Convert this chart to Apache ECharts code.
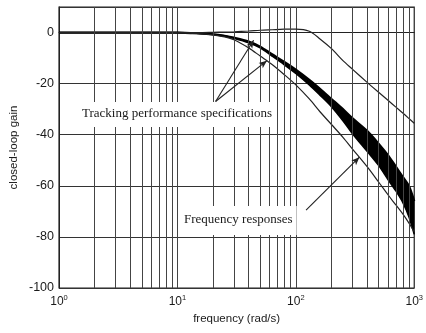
<!DOCTYPE html>
<html>
<head>
<meta charset="utf-8">
<script src="https://cdn.jsdelivr.net/npm/echarts@6/dist/echarts.min.js"></script>
<style>
  html, body { margin: 0; padding: 0; background: #fff; }
  #chart { width: 426px; height: 333px; }
</style>
</head>
<body>
<div id="chart"></div>
<script>
// frequency (rad/s) and closed-loop gain (dB)
const freq       = [1, 10, 15, 20, 25, 30, 40, 50, 63, 80, 100, 130, 160, 200, 250, 300, 400, 500, 600, 700, 800, 900, 1000];
const upperSpec  = [0, 0, 0, 0.1, 0.2, 0.3, 0.6, 0.9, 1.1, 1.3, 1.3, 0.5, -2.5, -6.3, -11, -14.3, -19.5, -23.4, -26.5, -29.2, -31.5, -33.6, -35.5];
const lowerSpec  = [0, -0.1, -0.4, -0.9, -1.7, -2.8, -6, -9.2, -12.5, -16.5, -20.5, -26, -31, -36, -41, -45.5, -52.5, -58.5, -63.5, -67.5, -71, -74.5, -78];
const bandTop    = [0, 0, -0.3, -0.7, -1.3, -2, -3.5, -5.5, -8.5, -11.5, -14.5, -18.5, -22, -26, -30, -33.5, -38.5, -43.5, -48, -52.5, -56.5, -60, -66];
const bandBottom = [0, 0, -0.3, -0.7, -1.3, -2.2, -4, -6, -9.2, -12.6, -16, -20.5, -24.5, -29, -34.5, -39.5, -46.5, -52, -57.5, -62, -66.5, -72, -79];
const gridFreqs  = [2, 3, 4, 5, 6, 7, 8, 9, 20, 30, 40, 50, 60, 70, 80, 90, 200, 300, 400, 500, 600, 700, 800, 900];

// annotation arrows [from, to] in data coords
const specArrows = [[[21, -27], [44, -3]], [[21, -27], [57, -11]]];
const respArrow  = [[122, -69.5], [344, -48.8]];

const pairs = ys => freq.map((f, i) => [f, ys[i]]);
const ink = '#1a1a1a';

const chart = echarts.init(document.getElementById('chart'));
chart.setOption({
  backgroundColor: '#fff',
  animation: false,
  grid: {left: 59, right: 6, top: 7, bottom: 45, show: true, borderColor: '#222', borderWidth: 1.2},
  xAxis: {
    type: 'log', logBase: 10, min: 1, max: 1000,
    name: 'frequency (rad/s)', nameLocation: 'middle', nameGap: 25, nameMoveOverlap: false,
    nameTextStyle: {fontFamily: 'Liberation Sans', fontSize: 11.5, color: ink},
    axisLine: {show: true, lineStyle: {color: '#222'}},
    axisTick: {show: false},
    splitLine: {show: true, lineStyle: {color: '#444', width: 1}},
    axisLabel: {
      margin: 6,
      formatter: v => '{b|10}{s|' + Math.round(Math.log10(v)) + '}',
      rich: {
        b: {fontFamily: 'Liberation Sans', fontSize: 12, color: ink},
        s: {fontFamily: 'Liberation Sans', fontSize: 7.5, color: ink, padding: [0, 0, 8, 0]}
      }
    }
  },
  yAxis: {
    type: 'value', min: -100, max: 10, interval: 20,
    name: 'closed-loop gain', nameLocation: 'middle', nameGap: 39, nameMoveOverlap: false,
    nameTextStyle: {fontFamily: 'Liberation Sans', fontSize: 11.5, color: ink},
    axisLine: {show: true, lineStyle: {color: '#222'}},
    axisTick: {show: false},
    splitLine: {show: true, lineStyle: {color: '#333', width: 1.2}},
    axisLabel: {
      showMaxLabel: false, margin: 5,
      fontFamily: 'Liberation Sans', fontSize: 12.5, color: ink
    }
  },
  graphic: [
    {type: 'text', z: 10, left: 79, top: 102, style: {
      text: 'Tracking performance specifications', font: '13px "Liberation Serif"',
      fill: ink, backgroundColor: '#fff', padding: [5, 3, 7, 3]}},
    {type: 'text', z: 10, left: 180, top: 206, style: {
      text: 'Frequency responses', font: '13px "Liberation Serif"',
      fill: ink, backgroundColor: '#fff', padding: [7, 4, 9, 4]}}
  ],
  series: [
    {
      // minor log grid lines
      type: 'line', data: [], z: 1, silent: true,
      markLine: {
        silent: true, symbol: ['none', 'none'], label: {show: false},
        lineStyle: {color: '#444', width: 1, type: 'solid'},
        data: gridFreqs.map(f => ({xAxis: f}))
      }
    },
    {
      // band of frequency responses
      type: 'custom', z: 3, clip: true, silent: true,
      data: [[1, 0]],
      renderItem: (params, api) => {
        const pts = freq.map((f, i) => api.coord([f, bandTop[i]]))
          .concat(freq.map((f, i) => api.coord([f, bandBottom[i]])).reverse());
        return {type: 'polygon', shape: {points: pts}, style: {fill: '#000'}};
      }
    },
    {name: 'band top', type: 'line', data: pairs(bandTop), z: 4, symbol: 'none', smooth: 0.3,
      lineStyle: {color: '#000', width: 2.2}},
    {name: 'band bottom', type: 'line', data: pairs(bandBottom), z: 4, symbol: 'none', smooth: 0.3,
      lineStyle: {color: '#000', width: 1.6}},
    {name: 'upper spec', type: 'line', data: pairs(upperSpec), z: 4, symbol: 'none', smooth: 0.3,
      lineStyle: {color: '#222', width: 1.2}},
    {name: 'lower spec', type: 'line', data: pairs(lowerSpec), z: 4, symbol: 'none', smooth: 0.3,
      lineStyle: {color: '#222', width: 1.2}},
    {
      // annotation arrows
      type: 'line', data: [], z: 5, silent: true,
      markLine: {
        silent: true, symbol: ['none', 'arrow'], symbolSize: [5, 8], label: {show: false},
        lineStyle: {color: '#222', width: 1.1, type: 'solid'},
        data: specArrows.concat([respArrow]).map(a => [{coord: a[0]}, {coord: a[1]}])
      }
    }
  ]
});
</script>
</body>
</html>
